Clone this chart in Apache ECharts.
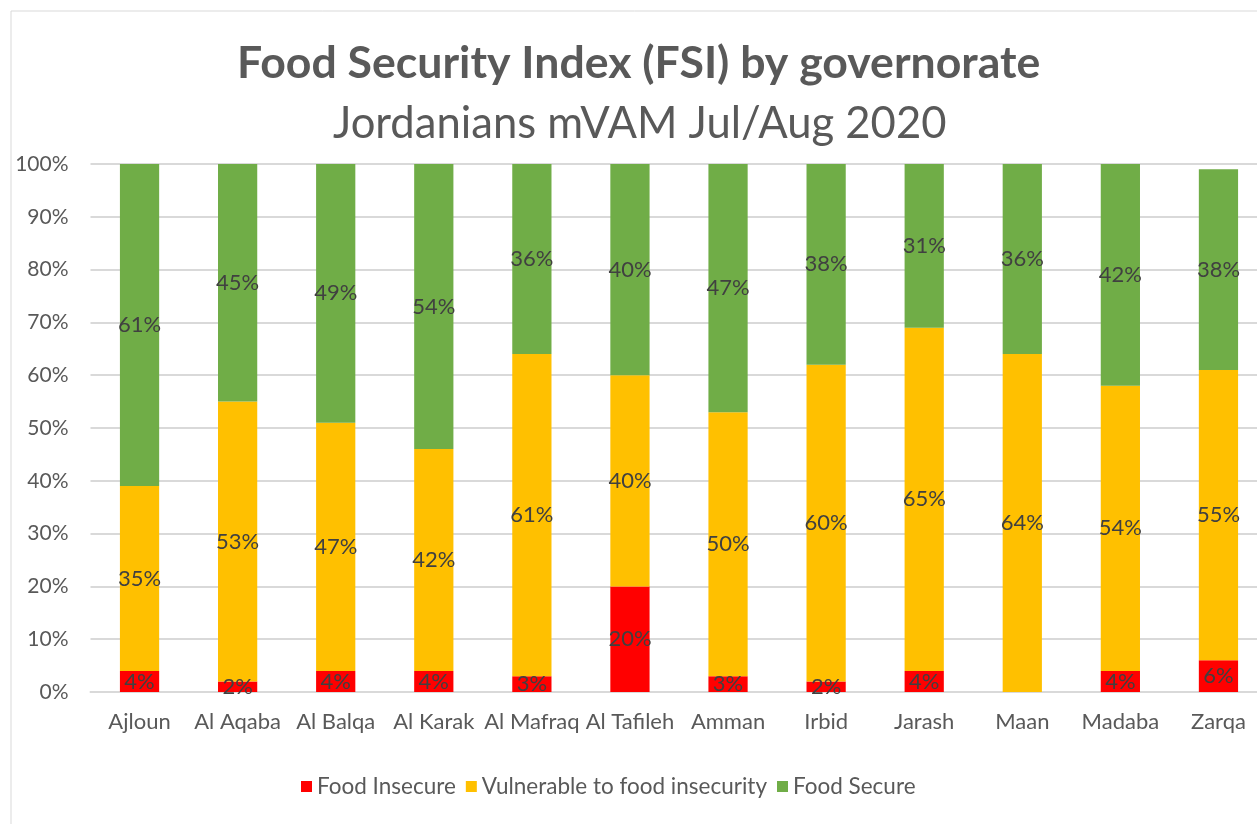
<!DOCTYPE html>
<html><head><meta charset="utf-8">
<script src="https://cdn.jsdelivr.net/npm/echarts@6/dist/echarts.min.js"></script>
<style>html,body{margin:0;padding:0;background:#fff}#c{width:1257px;height:824px}</style>
</head><body><div id="c"></div>
<script>
const categories = ['Ajloun','Al Aqaba','Al Balqa','Al Karak','Al Mafraq','Al Tafileh','Amman','Irbid','Jarash','Maan','Madaba','Zarqa'];
const foodInsecure = [4,2,4,4,3,20,3,2,4,0,4,6];
const vulnerable = [35,53,47,42,61,40,50,60,65,64,54,55];
const foodSecure = [61,45,49,54,36,40,47,38,31,36,42,38];
const seriesNames = ['Food Insecure','Vulnerable to food insecurity','Food Secure'];
const colors = ['#FF0000','#FFC000','#70AD47'];
const FONT = 'Lato';

const chart = echarts.init(document.getElementById('c'));
const mk = (name, data, color) => ({
  name, type:'bar', stack:'total', data: data.map(v=>v/100), barWidth:'40%',
  itemStyle:{color},
  label:{show:true, position:'inside', color:'#404040', fontFamily:FONT, fontSize:22,
    formatter:p=> p.value>0 ? Math.round(p.value*100)+'%' : ''}
});
chart.setOption({
  animation:false,
  graphic:[{type:'rect', shape:{x:11,y:11,width:1300,height:900}, style:{fill:'none', stroke:'#D9D9D9', lineWidth:1}}],
  title:[
    {text:'Food Security Index (FSI) by governorate', left:232, top:36,
     textStyle:{fontFamily:FONT, fontSize:44.6, fontWeight:'bold', color:'#595959'}},
    {text:'Jordanians mVAM Jul/Aug 2020', left:328, top:97,
     textStyle:{fontFamily:FONT, fontSize:43.6, fontWeight:'normal', color:'#595959'}}
  ],
  legend:{bottom:21, left:296, itemWidth:11, itemHeight:11, itemGap:10, icon:'rect',
    textStyle:{fontFamily:FONT, fontSize:22.5, color:'#595959'}, data:seriesNames},
  grid:{left:90.5, width:1177, top:164, bottom:132, containLabel:false, outerBoundsMode:'none'},
  xAxis:{type:'category', data:categories,
    axisLine:{lineStyle:{color:'#D9D9D9', width:2}}, axisTick:{show:false},
    axisLabel:{color:'#595959', fontFamily:FONT, fontSize:22, margin:19, interval:0}},
  yAxis:{type:'value', min:0, max:1, interval:0.1,
    axisLine:{show:false}, axisTick:{show:false},
    splitLine:{lineStyle:{color:'#D9D9D9', width:2}},
    axisLabel:{color:'#595959', fontFamily:FONT, fontSize:21, margin:22,
      formatter:v=>Math.round(v*100)+'%'}},
  series:[mk(seriesNames[0],foodInsecure,colors[0]), mk(seriesNames[1],vulnerable,colors[1]), mk(seriesNames[2],foodSecure,colors[2])]
});
</script></body></html>
